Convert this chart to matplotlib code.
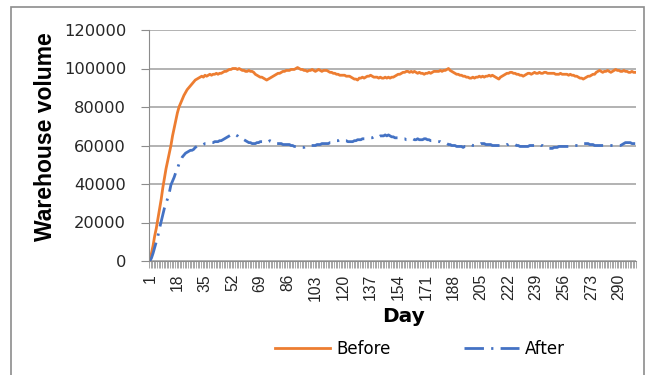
import numpy as np
import matplotlib.pyplot as plt
from matplotlib.patches import Rectangle

# warehouse volume per day, in thousands
before_k = [
    0, 4, 8, 13, 17, 22, 27, 32, 38, 43,
    48, 52, 56, 60, 65, 69, 73, 77, 80, 82,
    84, 86, 87.5, 89, 90, 91, 92, 93, 94, 94.5,
    95, 95.5, 96, 95.5, 96.5, 96, 96.5, 97, 96.5, 97,
    97, 97.5, 97, 97.5, 97.5, 98, 98.5, 98.5, 99, 99.5,
    99.5, 100, 100, 100, 99.5, 100, 99.5, 99, 99, 98.5,
    98.5, 99, 98.5, 98.5, 98, 97, 96.5, 96, 95.5, 95.5,
    95, 94.5, 94, 94.5, 95, 95.5, 96, 96.5, 97, 97.5,
    97.5, 98, 98.5, 98.5, 99, 99, 99, 99.5, 99.5, 99.5,
    100, 100.5, 100, 99.5, 99.5, 99, 99, 98.5, 99, 99,
    99.5, 99, 98.5, 99, 99.5, 99, 98.5, 99, 99, 99,
    98.5, 98, 98, 97.5, 97.5, 97, 97, 96.5, 96.5, 96.5,
    96.5, 96, 96, 96, 95.5, 95, 94.5, 94.5, 94, 95,
    95, 95.5, 95, 95.5, 96, 96, 96.5, 96, 95.5, 95.5,
    95.5, 95, 95.5, 95, 95, 95.5, 95, 95.5, 95, 95.5,
    95.5, 96, 96.5, 97, 97, 97.5, 98, 98, 98.5, 98.5,
    98, 98.5, 98, 98.5, 98, 97.5, 98, 97.5, 97.5, 97,
    97.5, 97.5, 98, 97.5, 98, 98.5, 98.5, 98.5, 98.5, 99,
    98.5, 99, 99, 99.5, 100, 99, 98.5, 98, 97.5, 97,
    97, 96.5, 96.5, 96, 96, 95.5, 95.5, 95, 95, 95.5,
    95, 95.5, 95.5, 96, 95.5, 96, 95.5, 96, 96, 96.5,
    96, 96.5, 96, 95.5, 95, 94.5, 95.5, 96, 96.5, 97,
    97.5, 97.5, 98, 98, 97.5, 97.5, 97, 97, 96.5, 96.5,
    96, 96.5, 97, 97.5, 97.5, 97, 97.5, 98, 97.5, 97.5,
    98, 97.5, 97.5, 98, 98, 97.5, 97.5, 97.5, 97.5, 97.5,
    97, 97, 97, 97.5, 97, 97, 97, 97, 96.5, 97,
    96.5, 96.5, 96, 96, 95.5, 95, 95, 94.5, 95, 95.5,
    96, 96, 96.5, 97, 97, 98, 98.5, 99, 98.5, 98,
    98.5, 98.5, 99, 98.5, 98, 98.5, 99, 99.5, 99, 99,
    98.5, 98.5, 99, 98.5, 98.5, 98, 98, 98.5, 98, 98,
]

after_k = [
    0, 1.5, 4, 7, 10, 13, 17, 20.5, 24, 27.5,
    30, 32.5, 35.5, 39.5, 41.5, 43.5, 46, 48, 50.5, 52,
    54, 55, 56, 56.5, 57, 57.5, 57.5, 58, 59, 59.5,
    59.5, 59.5, 60, 60.5, 61, 61, 61, 61.5, 61.5, 61.5,
    62, 62, 62, 62.5, 62.5, 63, 63.5, 64, 64.5, 65,
    65.5, 66, 66, 65.5, 65, 64, 63.5, 63, 63, 62.5,
    62, 61.5, 61.5, 61, 61, 61, 61.5, 61.5, 62, 62,
    62, 62.5, 62, 62, 62.5, 62, 62, 61.5, 61, 61,
    61, 61, 60.5, 60.5, 60.5, 60.5, 60.5, 60, 60, 59.5,
    59.5, 59, 59, 59, 59, 59, 59.5, 59.5, 60, 60,
    60, 60, 60, 60.5, 60.5, 60.5, 61, 61, 61, 61,
    61, 61.5, 61.5, 62, 62, 62.5, 62.5, 63, 63, 63,
    62.5, 62.5, 62, 62, 62, 62, 62.5, 62.5, 63, 63,
    63, 63.5, 63.5, 63.5, 64, 64, 64, 64, 64.5, 64,
    64.5, 64.5, 65, 65, 65, 65.5, 65, 65.5, 65, 64.5,
    64.5, 64, 64, 64, 64, 63.5, 63.5, 63.5, 63, 63,
    63, 63, 63.5, 63, 63, 63.5, 63, 63, 63, 63.5,
    63.5, 63, 63, 62.5, 62.5, 62.5, 62.5, 62, 62, 62,
    61.5, 61.5, 61, 61, 60.5, 60.5, 60, 60, 60, 59.5,
    59.5, 59.5, 59.5, 59, 59.5, 59.5, 60, 60, 60.5, 60,
    60, 60, 60.5, 60.5, 61, 61, 61, 60.5, 60.5, 60.5,
    60.5, 60, 60, 60, 60, 60, 60, 60, 60, 60,
    60.5, 60.5, 61, 61, 61, 60.5, 60, 60, 59.5, 59.5,
    59.5, 59.5, 59.5, 59.5, 60, 60, 60, 60, 60, 60.5,
    60.5, 60, 60, 59.5, 59, 59, 58.5, 58.5, 58.5, 59,
    59, 59, 59.5, 59.5, 59.5, 59.5, 59.5, 59.5, 59.5, 60,
    60, 60, 60, 60, 60, 60.5, 60.5, 61, 61, 61,
    61, 60.5, 60.5, 60.5, 60, 60, 60, 60, 60, 60,
    60, 60, 60, 60, 60, 60, 60, 60, 60, 60,
    60, 60.5, 61, 61.5, 61.5, 61.5, 61.5, 61, 61, 61,
]

days = np.arange(1, len(before_k) + 1)
before = np.array(before_k) * 1000
after = np.array(after_k) * 1000

label_days = list(range(1, 301, 17))
y_ticks = [0, 20000, 40000, 60000, 80000, 100000, 120000]

W, H = 646, 375
fig = plt.figure(figsize=(W / 100, H / 100), dpi=100)

# outer chart border
fig.patches.append(Rectangle((11 / W, -0.05), (644 - 11) / W, 1.05 - 7 / H,
                             transform=fig.transFigure, fill=False,
                             edgecolor='#8c8c8c', linewidth=1.2))

ax = fig.add_axes([149 / W, 1 - 261 / H, (636 - 149) / W, (261 - 30) / H])

ax.plot(days, before, color='#ED7D31', linewidth=2.0, label='Before',
        solid_joinstyle='round')
ax.plot(days, after, color='#4472C4', linewidth=2.0, label='After',
        dashes=(7, 2.6, 0.8, 2.6), dash_capstyle='butt')

ax.set_xlim(0.5, len(days) + 0.5)
ax.set_ylim(0, 120000)

ax.set_yticks(y_ticks)
ax.set_yticklabels([str(v) for v in y_ticks], fontsize=11.7,
                   family='DejaVu Sans', color='#262626')
ax.tick_params(axis='y', length=6, color='#8c8c8c', pad=10.5)

ax.set_xticks(label_days)
ax.set_xticklabels([str(d) for d in label_days], rotation=90,
                   fontsize=11.3, family='Liberation Sans', color='#262626')
ax.set_xticks(np.arange(0.5, len(days) + 1), minor=True)
ax.tick_params(axis='x', which='major', length=0, pad=9.4)
ax.tick_params(axis='x', which='minor', length=5, color='#a6a6a6', width=0.7)

ax.grid(axis='y', color='#a6a6a6', linewidth=1.2)
ax.set_axisbelow(True)
for side in ['top', 'right']:
    ax.spines[side].set_visible(False)
ax.spines['left'].set_color('#8c8c8c')
ax.spines['bottom'].set_color('#8c8c8c')

fig.text(46 / W, 1 - 137 / H, 'Warehouse volume', rotation=90,
         ha='center', va='center', fontsize=16.5, fontweight='bold',
         family='Liberation Sans')
fig.text(403 / W, 1 - 316 / H, 'Day', ha='center', va='center',
         fontsize=14.5, fontweight='bold', family='DejaVu Sans')

fig.legend(loc='center', bbox_to_anchor=(420 / W, 1 - 349 / H), ncol=2,
           frameon=False, prop={'family': 'DejaVu Sans', 'size': 12},
           handlelength=3.3, handletextpad=0.36, columnspacing=4.4)

fig.savefig('out.png', dpi=100)
